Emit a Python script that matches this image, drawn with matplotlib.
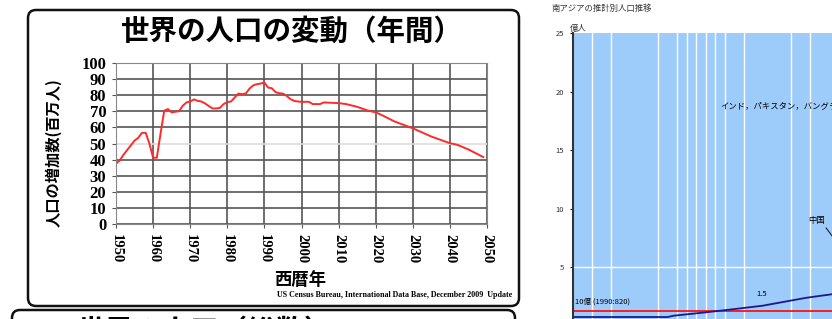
# world population change chart (left) + cropped south asia chart (right)
import matplotlib
matplotlib.use("Agg")
import matplotlib.pyplot as plt
from matplotlib.patches import FancyBboxPatch

plt.rcParams['font.family'] = ['Noto Sans CJK JP', 'DejaVu Sans']

# --- data: yearly world population increase (millions) ---
years = [1950, 1951, 1952, 1955, 1956, 1957, 1958, 1959, 1960, 1961, 1962, 1963,
         1964, 1965, 1967, 1968, 1969, 1970, 1971, 1972, 1973, 1974, 1975, 1976,
         1977, 1978, 1979, 1980, 1981, 1982, 1983, 1984, 1985, 1986, 1987, 1988,
         1989, 1990, 1991, 1992, 1993, 1994, 1995, 1996, 1997, 1998, 1999, 2000,
         2002, 2003, 2005, 2006, 2010, 2012, 2015, 2018, 2020, 2022, 2025, 2030,
         2035, 2040, 2042, 2045, 2049]
increase = [37.5, 39.5, 43.0, 51.8, 53.5, 56.6, 56.6, 50.0, 41.2, 41.2, 56.0, 70.3,
            71.3, 69.3, 70.0, 73.4, 75.4, 76.0, 77.3, 76.4, 76.0, 74.8, 73.2, 71.7,
            71.7, 72.0, 74.4, 75.6, 76.0, 78.5, 80.9, 80.5, 81.0, 84.0, 86.0, 86.7,
            87.1, 87.7, 84.6, 84.2, 81.8, 81.1, 80.9, 79.5, 77.5, 76.4, 76.0, 75.8,
            75.8, 74.4, 74.4, 75.4, 75.0, 74.4, 72.7, 70.3, 69.3, 67.2, 63.7, 59.4,
            54.3, 50.2, 49.2, 46.3, 41.6]
x_ticks = list(range(1950, 2051, 10))
y_ticks = list(range(0, 101, 10))

# --- data: right-hand (cropped) chart ---
sa_grid_years = [1960, 1970, 1995, 2005, 2010, 2015, 2020, 2025, 2030, 2040, 2065, 2075]
sa_years = [1950, 2000, 2003, 2020, 2034, 2050, 2073, 2086]
sa_values = [0.71, 0.71, 0.82, 1.11, 1.37, 1.68, 2.36, 2.65]
sa_ref_value = 1.25
sa_y_ticks = [5, 10, 15, 20, 25]

W, H = 832, 319
fig = plt.figure(figsize=(W / 100, H / 100), dpi=100)


def px_box(x0, y0, x1, y1):
    # pixel box (top-left origin) -> figure fraction rect
    return [x0 / W, 1 - y1 / H, (x1 - x0) / W, (y1 - y0) / H]


# rounded frames, drawn in inches so the corners stay round
frame1 = FancyBboxPatch((0.28, 0.13), 4.91, 2.96, boxstyle="round,pad=0,rounding_size=0.08",
                        transform=fig.dpi_scale_trans, fill=False, ec="#111111", lw=1.8)
frame2 = FancyBboxPatch((0.12, -0.6), 5.03, 0.69, boxstyle="round,pad=0,rounding_size=0.08",
                        transform=fig.dpi_scale_trans, fill=False, ec="#111111", lw=1.8)
fig.patches.extend([frame1, frame2])

fig.text(292 / W, 1 - 32 / H, "世界の人口の変動（年間）", ha="center", va="center",
         fontsize=20.5, fontweight="bold")
fig.text(205 / W, 1 - 332 / H, "世界の人口（総数）", ha="center", va="center",
         fontsize=20.5, fontweight="bold")

# --- left chart ---
ax = fig.add_axes(px_box(116, 62.7, 487, 224.3))
ax.plot(years, increase, color="#ff2a2a", lw=1.4)
ax.set_xlim(1950, 2050)
ax.set_ylim(0, 100)
ax.set_xticks(x_ticks)
ax.set_yticks(y_ticks)
ax.set_xticklabels([str(t) for t in x_ticks], rotation=-90, family="Liberation Serif",
                   fontweight="bold", fontsize=10.5)
ax.set_yticklabels([str(t) for t in y_ticks], family="Liberation Serif",
                   fontweight="bold", fontsize=12)
ax.tick_params(length=3, color="#555555", pad=4)
ax.grid(True, color="#555555", lw=1.2)
ax.set_axisbelow(True)
ax.get_ygridlines()[5].set_color("#dddddd")
for s in ax.spines.values():
    s.set_color("#888888")

fig.text(53 / W, 1 - 152.5 / H, "人口の増加数(百万人)", rotation=90, ha="center", va="center",
         fontsize=11, fontweight="bold")
fig.text(300 / W, 1 - 280 / H, "西暦年", ha="center", va="center", fontsize=12.5,
         fontweight="bold")
fig.text(512 / W, 1 - 295 / H, "US Census Bureau, International Data Base, December 2009  Update",
         ha="right", va="center", fontsize=5.8, family="Liberation Serif", fontweight="bold")

# --- right chart (cut off by the figure edge) ---
ax2 = fig.add_axes(px_box(572.7, 33.3, 840, 325.3))
ax2.set_facecolor("#9dcbfa")
ax2.set_xlim(1950, 2090.6)
ax2.set_ylim(0, 25)
for g in sa_grid_years:
    ax2.axvline(g, color="white", lw=1.0)
ax2.axhline(5, color="white", lw=1.0)
ax2.axhline(sa_ref_value, color="#ff1010", lw=1.3)
ax2.plot(sa_years, sa_values, color="#1a1a8c", lw=1.3)
ax2.set_xticks([])
ax2.set_yticks(sa_y_ticks)
ax2.set_yticklabels([str(t) for t in sa_y_ticks], fontsize=5.5, color="#333333")
ax2.tick_params(axis="y", length=2, pad=4)
for side in ["top", "right", "bottom"]:
    ax2.spines[side].set_visible(False)
ax2.spines["left"].set_color("#333333")
ax2.spines["left"].set_linewidth(1.5)

ax2.text(2027.5, 18.7, "インド，パキスタン，バングラデシュ", fontsize=6, va="center")
ax2.text(2073.8, 9.0, "中国", fontsize=6, va="center")
ax2.plot([2083.3, 2086.5], [8.33, 7.64], color="#222222", lw=0.8)
ax2.text(1951.3, 2.02, "10億 (1990:820)", fontsize=5.5, va="center")
ax2.text(2049.6, 2.68, "1.5", fontsize=5.5, va="center", ha="center")

fig.text(552 / W, 1 - 8 / H, "南アジアの推計別人口推移", fontsize=6, va="center", color="#333333")
fig.text(570 / W, 1 - 28 / H, "億人", fontsize=6, va="center", color="#333333")

fig.savefig("out.png", dpi=100)
